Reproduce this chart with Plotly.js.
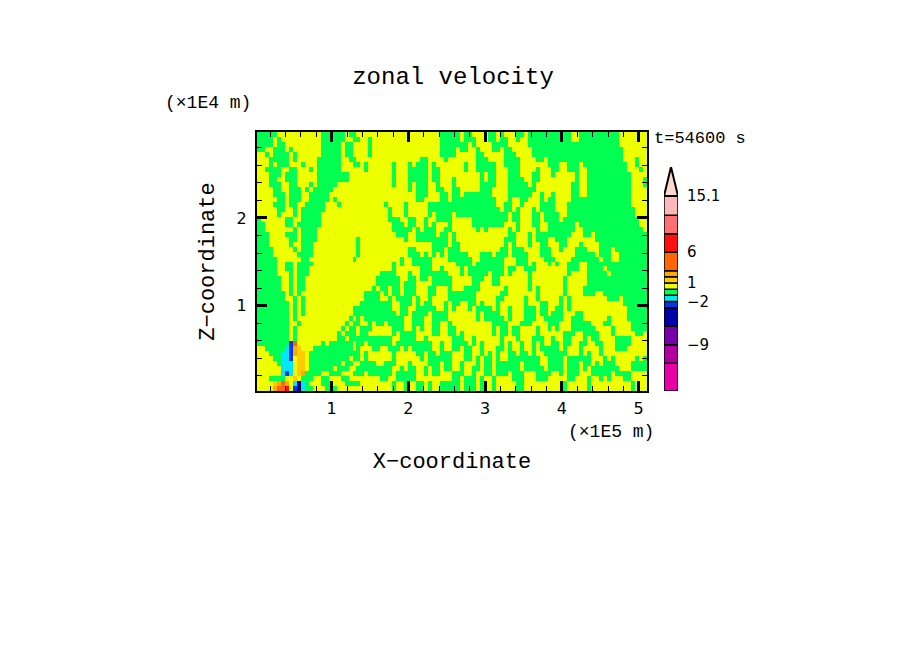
<!DOCTYPE html>
<html><head><meta charset="utf-8">
<script src="https://cdn.plot.ly/plotly-3.0.1.min.js"></script>
<style>html,body{margin:0;padding:0;background:#fff}</style>
</head><body><div id="chart" style="width:904px;height:654px"></div>
<script>
// Contour class boundaries and colours
const levelBounds = [-16.5,-12,-9,-6,-3,-2,-1,0,1,2,3,6,9,12,15.1];
const levelColors = ['#E800A8','#B000A0','#7800A8','#0000A8','#0038E8','#00E8F8','#00FF50','#EEFF00','#FFCC00','#FFA800','#FF6600','#FF1010','#FF7070','#FFB8B8'];
const overColor = '#FFD8D0';
const overTip = 19.8;
const barTickVals = [15.1,6,1,-2,-9];
const barTickText = ['15.1','6','1','\u22122','\u22129'];
// Class of each grid cell (run-length: letter + cell count)
const classValue = {g:-0.5,y:0.5,c:-1.5,b:-2.5,n:-4.5,d:1.5,a:2.5,o:4.5,r:7.5};
// Western part of the domain, one string per grid row, top row first
const westRows = [
'g5y11g6y1g2y1','g4y1g1y10g6y2g2','g4y1g2y9g5y1g2y2','g2y2g3y1g1y7g5y1g2y2',
'y2g1y1g4y1g1y6g5y1g2y2','y3g5y1g1y5g6y2g2y1','y3g1y1g3y3g1y3g6y3g2','y2g4y2g2y3g1y1g6y5',
'y3g3y1g3y5g8y3','y3g2y2g3y4y1g8y3','y3g3y2g2y3g1y1g5y6','y4g2y2g3y1g1y1g5y7',
'y4g3y1g3y2g5y8','y5g2y1g3y2g5y1g1y6','y4g3y1g2y2g5y3g1y5','y5g2y2g1y1g1g5y9',
'y5g1y3g1y1g1g4y10','g1y6g2y2g1g4y10','g2y5g2y1g2g4y10','g2y7g1y1g4y11',
'g3y4g3y1g4y11','g3y5g2y1g4y10g1','g3y5g1y2g3y11g1','g4y5g1y1g3y11g1',
'g4y6g1g3y11g1','g5y6g2y11g1y1','g5y2g2y1g4y12','g5y2g2y1g3y13',
'g5y3g1y1g3y13','g6y2g1y1g2y14','g6y2g1y1g2y14','g6y2g1y1g2y14',
'g7y1g1y1g1y15','g7y2g1y1g1y14g1','g8y1g1y1g1y13','g8y1g1y1g1y12g1',
'g8y1g1y1g1y12g1','g8y1g1y1y12g1y1g2','g8y2g1y11g1y1g2','g8y1g1y11g1y1g2y1',
'g8y1g1y10g1y1g3y1','g8y1g1y10g2y1g3','g8b1o1y6g1y1g6y1g1','y2g5c1b1a1d1y3g10y1g1',
'y3g3c2b1a1d2y1g11','y4g2c2b1y1d2y1g10y1g2','y5g1c3y1d2y1g8y1g2y1','y6c3y1d2y1g6y1g3y2g1',
'y6c1b1c1y1d1a1g4y2g3y3g2','y3g4y2d1y1g3y2g2y3g2y1','y4d1a1o1a1y1c1n1c1g1y3g3y3g1','y4a1o2r1y1b1n1c1g2y3g3y4'];
// Remainder of the domain, one string per grid column, west to east, top cell first
const eastColumns = [
'y34g3y2g4y3g3y3','y6g2y24g6y1g3y2g4y4','y1g4y27g8y1g2y3g3y3','y31g7y3g3y2g3y3','y29g2y1g7y2g3y3g2y3','y28g4y2g5y2g2y4g3y2',
'y14g1y13g5y1g4y3g2y3g4y2','y15g3y10g3y2g6y2g3y2g3y3',
'y6g5y6g3y6g7y3g5y2g4y3g2','y17g4y8g5y3g3y2g2y4g2y2','y18g3y4g2y6g10y4g3y2','y14g3y2g3y8g7y3g4y4g4',
'y6g6y5g3y3g2y3g7y5g3y3g4y2','y7g3y7g2y4g4y2g4y3g8y3g3y2','y6g8y5g3y2g3y6g6y3g3y5g2','y5g9y6g2y3g5y5g5y2g4y4g2',
'y5g8y4g5y2g6y4g3y4g3y3g2y3','y14g3y2g3y3g4y2g5y6g5y3g2','y6g4y4g2y2g7y3g5y2g6y3g5y3','y7g5y2g4y3g3y4g3y5g5y4g4y3',
'g5y6g7y2g5y2g4y5g2y4g4y4g2','g6y6g6y1g4y5g3y3g4y6g4y2g2','g5y9g6y3g3y3g5y4g3y3g4y2g2',
'g5y4g7y4g6y6g4y3g5y4g4','g3y8g6y5g5y5g3y6g3y4g4','y2g2y9g4y7g5y3g2y6g3y3g3y3','g4y2g2y4g5y7g3y4g3y8g4y3g3',
'g2y10g5y8g4y2g5y7g3y3g3','y1g2y9g7y8g8y6g2y4g5','y3g5y4g8y6g6y3g3y7g3y4','y4g15y5g6y4g2y6g3y4g3',
'y5g3y2g10y4g5y6g3y7g4y3','g2y4g13y5g4y7g3y6g5y3','g4y2g5y2g6y6g6y5g5y8g3','y2g2y11g4y5g7y2g6y4g6y3',
'g3y13g3y4g6y3g2y3g7y2g3y3','y1g6y7g4y3g4y6g2y5g3y5g3y3','y3g13y3g3y5g2y6g3y4g6y4','y4g9y3g2y2g5y2g1y11g2y3g6y2',
'g2y3g8y2g5y3g4y12g3y3g7','g1y8g6y8g4y11g1y3g4y2g4','y10g4y10g4y5g6y5g4y4','g3y8g2y7g3y4g5y3g4y6g3y4',
'g5y3g4y3g4y7g2y7g3y3g7y4','g6y1g3y6g6y9g3y5g3y3g5y2','g6y6g4y4g5y9g3y4g3y3g3y2','g5y9g4y2g6y8g4y5g2y3g2y2',
'g7y6g8y2g4y10g3y3g6y3','g9y3g9y4g1y10g3y2g7y4','g8y8g6y4g1y8g5y2g6y4','g6y12g6y9g5y6g5y3',
'g6y11g6y6g4y7g5y5g2','g8y6g7y5g3y4g3y4g3y2g5y2','y2g6y2g10y5g3y9g4y4g5y2','y2g16y5g5y8g4y5g4y3',
'g6y7g6y3g4y10g4y2g4y6','g7y6g8y2g3y5g2y5g5y2g3y4','g21y3g9y5g3y3g3y2g3','g20y4g9y6g3y5g2y3',
'g22y3g7y8g3y3g3y3','g25y1g6y10g3y2g3y2','g27y1g5y5g1y6g4y3','g28y1g5y3g2y7g4y2',
'g23y3g8y5g2y4g3y4','g24y2g8y7g3y3g2y3','y3g30y8g3y4g1y3','y6g29y6g3y4g2y2',
'y8g30y3g2y5g2y2','y15g25y6g2y2g2','y5g2y10g24y4g3y4','y7g1y11g22y5g2y4','y9g2y9g20y5g3y4'];
// Axis ticks
const xTickVals = [1,2,3,4,5];
const zTickVals = [1,2];
const xLimits = [0.027,5.108];
const zLimits = [0.027,2.98];

function decode(rle){
  const out=[]; rle.replace(/([a-z])(\d+)/g,(m,c,n)=>{for(let i=0;i<+n;i++)out.push(classValue[c]);return m;});
  return out;
}
function fit(a,n){a=a.slice(0,n);while(a.length<n)a.push(a[a.length-1]);return a;}
const westCols=26, nRows=westRows.length;
const westGrid=westRows.map(r=>fit(decode(r),westCols));
const eastGrid=eastColumns.map(c=>fit(decode(c),nRows));
const zGrid=westGrid.map((row,i)=>row.concat(eastGrid.map(col=>col[i]))).reverse();
const nCols=zGrid[0].length;
const dx=(xLimits[1]-xLimits[0])/nCols, dz=(zLimits[1]-zLimits[0])/nRows;

const lo=levelBounds[0], hi=levelBounds[levelBounds.length-1];
const colorscale=[];
levelColors.forEach((c,i)=>{colorscale.push([(levelBounds[i]-lo)/(hi-lo),c]);colorscale.push([(levelBounds[i+1]-lo)/(hi-lo),c]);});

const field={type:'heatmap',z:zGrid,x0:xLimits[0]+dx/2,dx:dx,y0:zLimits[0]+dz/2,dy:dz,zmin:lo,zmax:hi,colorscale:colorscale,showscale:false,zsmooth:false,hoverinfo:'skip',xaxis:'x',yaxis:'y'};
const barSegs={type:'bar',x:levelColors.map(()=>0.5),y:levelColors.map((c,i)=>levelBounds[i+1]-levelBounds[i]),base:levelBounds.slice(0,-1),width:1,
  marker:{color:levelColors,line:{color:'#000',width:1.5}},xaxis:'x2',yaxis:'y2',hoverinfo:'skip',cliponaxis:false};
const barTip={type:'scatter',mode:'lines',x:[0,0.5,1,0],y:[hi,overTip,hi,hi],fill:'toself',fillcolor:overColor,line:{color:'#000',width:2},xaxis:'x2',yaxis:'y2',hoverinfo:'skip',cliponaxis:false};

// page geometry
const L=257,R=678,T=132,B=391,PLOTR=647;
const W=R-L,H=B-T;
const px=v=>(v-L)/W, py=v=>(B-v)/H;
const thin='"Liberation Mono", monospace';
const sans='"DejaVu Sans", sans-serif';
const smallFont={family:thin,size:18,color:'#000'};
const axisCommon={showline:true,linecolor:'#000',linewidth:2,mirror:'allticks',ticks:'inside',ticklen:10,tickwidth:3,tickcolor:'#000',showgrid:false,zeroline:false,
  tickfont:{family:sans,size:16,color:'#000'},minor:{ticks:'inside',ticklen:5,tickwidth:1,tickcolor:'#000',dtick:0.2,tick0:0,showgrid:false}};
const layout={width:904,height:654,margin:{l:L,r:904-R,t:T,b:654-B,pad:0},paper_bgcolor:'#fff',plot_bgcolor:'#fff',showlegend:false,barmode:'overlay',
  title:{text:'zonal velocity',xref:'container',yref:'container',x:453/904,y:1-76/654,xanchor:'center',yanchor:'middle',font:{family:thin,size:24,color:'#000'}},
  xaxis:Object.assign({},axisCommon,{domain:[0,(PLOTR-L)/W],range:xLimits,tickvals:xTickVals,anchor:'y',ticklabelstandoff:2,title:{text:'X\u2212coordinate',font:{family:thin,size:22,color:'#000'},standoff:35}}),
  yaxis:Object.assign({},axisCommon,{domain:[0,1],range:zLimits,tickvals:zTickVals,anchor:'x',ticklabelstandoff:5,title:{text:'Z\u2212coordinate',font:{family:thin,size:22,color:'#000'},standoff:16}}),
  xaxis2:{domain:[px(664),1],range:[0,1],anchor:'y2',showticklabels:false,ticks:'',showgrid:false,zeroline:false,showline:false},
  yaxis2:{domain:[0,py(167)],range:[lo,overTip],anchor:'x2',side:'right',tickmode:'array',tickvals:barTickVals,ticktext:barTickText,ticks:'',showgrid:false,zeroline:false,showline:false,ticklabelstandoff:8,tickfont:{family:sans,size:15,color:'#000'}},
  annotations:[
    {text:'(\u00d71E4 m)',xref:'paper',yref:'paper',x:px(208),y:py(103),xanchor:'center',yanchor:'middle',showarrow:false,font:smallFont},
    {text:'(\u00d71E5 m)',xref:'paper',yref:'paper',x:px(611),y:py(432),xanchor:'center',yanchor:'middle',showarrow:false,font:smallFont},
    {text:'t=54600 s',xref:'paper',yref:'paper',x:px(652),y:py(138),xanchor:'left',yanchor:'middle',showarrow:false,font:{family:thin,size:17,color:'#000'}}
  ]};
Plotly.newPlot('chart',[field,barSegs,barTip],layout,{staticPlot:true,displayModeBar:false});
</script></body></html>
